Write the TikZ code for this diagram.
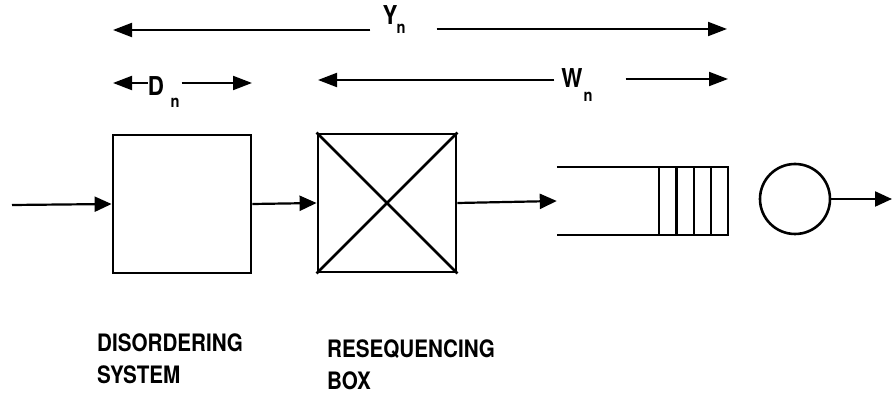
\documentclass[tikz,border=0pt]{standalone}
\usepackage{fontspec}
\setmainfont{TeX Gyre Heros}[FakeStretch=0.86]
\usetikzlibrary{arrows.meta,positioning,calc}
\tikzset{
  blk/.style={draw, line width=2.8pt, minimum width=138pt, minimum height=138pt, inner sep=0pt},
  flow/.style={-{Triangle[length=17pt,width=15pt]}, line width=2.2pt},
  dim/.style={-{Triangle[length=19pt,width=14pt]}, line width=2pt},
  qline/.style={line width=2.4pt},
  dimlbl/.style={font=\fontsize{26}{26}\selectfont\bfseries, inner sep=0pt},
  sublbl/.style={font=\fontsize{17}{17}\selectfont\bfseries, inner sep=0pt},
  caption/.style={font=\fontsize{24}{32}\selectfont\bfseries, align=left, inner sep=0pt, anchor=north west},
}

\begin{document}
\begin{tikzpicture}[x=1pt,y=-1pt]
  \useasboundingbox (0,0) rectangle (892,395);
  % dimension labels
  \node[dimlbl] (ylbl) at (390,15) {Y};
  \node[sublbl] (ysub) at (401,29) {n};
  \node[dimlbl] (dlbl) at (156,86) {D};
  \node[sublbl] (dsub) at (175,103) {n};
  \node[dimlbl] (wlbl) at (572,78) {W};
  \node[sublbl] (wsub) at (588,97) {n};
  \coordinate (yl) at (113,30);
  \coordinate (yr) at (727,29);
  \coordinate (dl) at (113,83);
  \coordinate (dr) at (252,83);
  \coordinate (wl) at (318,80);
  \coordinate (wr) at (728,79);
  \draw[dim,shorten <=12pt] (ylbl.west |- yl) -- (yl);
  \draw[dim,shorten <=31pt] (ysub.east |- yr) -- (yr);
  \draw[dim] (dlbl.west |- dl) -- (dl);
  \draw[dim,shorten <=2pt] (dsub.east |- dr) -- (dr);
  \draw[dim,shorten <=7pt] (wlbl.west |- wl) -- (wl);
  \draw[dim,shorten <=33pt] (wsub.east |- wr) -- (wr);
  % blocks
  \node[blk] (dis) at (182,204) {};
  \node[blk] (reseq) at (387,203) {};
  \draw[line width=2.6pt] (reseq.north west) -- (reseq.south east);
  \draw[line width=2.6pt] (reseq.south west) -- (reseq.north east);
  \node[minimum width=171pt, minimum height=68pt, inner sep=0pt] (queue) at (642.5,201) {};
  \draw[qline] (queue.north west) -- (queue.north east) -- (queue.south east) -- (queue.south west);
  \foreach \i in {1,2,3} \draw[qline] ($(queue.north east)+(-17.25*\i,0)$) -- ($(queue.south east)+(-17.25*\i,0)$);
  \draw[qline] ($(queue.north east)+(-69,0)$) -- ($(queue.south east)+(-69,0)$);
  \node[draw, circle, line width=2.6pt, minimum size=70pt, inner sep=0pt] (srv) at (795,199) {};
  \coordinate (in) at (12,205);
  \coordinate (out) at (892,199);
  \draw[flow] (in) -- (dis.west);
  \draw[flow] (dis.east) -- (reseq.west);
  \draw[flow] (reseq.east) -- (queue.west);
  \draw[flow] (srv.east) -- (out);
  % captions
  \node[caption] (discap) at (97,334) {DISORDERING\\SYSTEM};
  \node[caption] (reseqcap) at (327,340) {RESEQUENCING\\BOX};
\end{tikzpicture}
\end{document}
